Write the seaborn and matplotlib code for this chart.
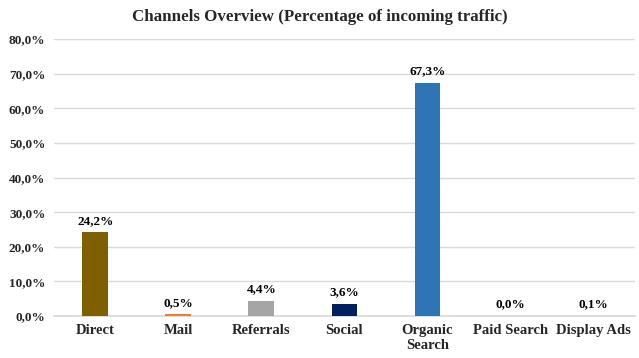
import matplotlib
matplotlib.use("Agg")
import matplotlib.pyplot as plt
import seaborn as sns
import pandas as pd
from matplotlib.ticker import FuncFormatter

categories = ["Direct", "Mail", "Referrals", "Social", "Organic\nSearch", "Paid Search", "Display Ads"]
values = [24.2, 0.5, 4.4, 3.6, 67.3, 0.0, 0.1]
colors = ["#7F6000", "#ED7D31", "#A5A5A5", "#002060", "#2E75B6", "#70AD47", "#C09030"]
yticks = [0, 10, 20, 30, 40, 50, 60, 70, 80]

sns.set_theme(style="white")
plt.rcParams['font.family'] = ['Liberation Serif', 'DejaVu Serif']

df = pd.DataFrame({"cat": categories, "val": values})
fig = plt.figure(figsize=(6.39, 3.58), dpi=100)
ax = fig.add_axes([0.084, 0.117, 0.91, 0.774])
sns.barplot(data=df, x="cat", y="val", hue="cat", palette=colors, legend=False,
            width=0.31, ax=ax, saturation=1, zorder=3, linewidth=0)

ax.set_ylim(0, 80)
ax.set_xlim(-0.5, 6.5)
ax.set_yticks(yticks)
ax.yaxis.set_major_formatter(FuncFormatter(lambda v, p: f"{v:.1f}%".replace(".", ",")))
ax.grid(axis="y", color="#D9D9D9", linewidth=1, zorder=0)
ax.set_axisbelow(True)
for s in ["top", "right", "left"]:
    ax.spines[s].set_visible(False)
ax.spines["bottom"].set_color("#D9D9D9")
ax.spines["bottom"].set_zorder(1)
ax.set_xlabel("")
ax.set_ylabel("")
ax.tick_params(axis="y", length=0, labelsize=9.5, pad=6)
ax.tick_params(axis="x", length=0, labelsize=10.5, pad=6)
for lbl in ax.get_xticklabels() + ax.get_yticklabels():
    lbl.set_fontweight("bold")

for i, v in enumerate(values):
    ax.text(i, v + 1.6, f"{v:.1f}%".replace(".", ","), ha="center", va="bottom",
            fontsize=9.5, fontweight="bold", color="#000000")

fig.suptitle("Channels Overview (Percentage of incoming traffic)", y=0.975,
             fontsize=12.2, fontweight="bold")
fig.savefig("out.png", dpi=100)
